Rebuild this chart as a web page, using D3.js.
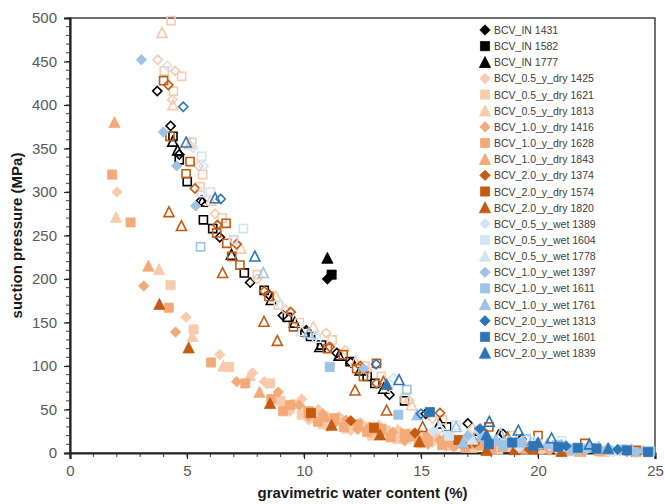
<!DOCTYPE html>
<html>
<head>
<meta charset="utf-8">
<script src="https://cdn.jsdelivr.net/npm/d3@7"></script>
<style>
  html, body { margin: 0; padding: 0; background: #fff; }
  svg { display: block; font-family: "Liberation Sans", Arial, sans-serif; }
</style>
</head>
<body>
<svg id="chart" width="665" height="504"></svg>
<script>
// Suction pressure vs. gravimetric water content for BCV bentonite samples.
// Each point is [water content %, suction MPa, filled (1) / open (0) marker].

const xTicks = [0, 5, 10, 15, 20, 25];
const yTicks = [0, 50, 100, 150, 200, 250, 300, 350, 400, 450, 500];

const in1431 = [[11.0,200,1],[3.73,416,0],[4.3,376,0],[4.67,343,0],[5.6,290,0],[6.4,248,0],[7.7,196,0],[8.5,182,0],[9.1,158,0],[10.1,141,0],[11.4,115,0],[12.0,104,0],[13.65,67,0],[15.2,45,0],[17.0,34,0],[18.5,22,0],[19.3,16,0]];
const in1582 = [[11.18,205,1],[4.4,364,0],[4.67,337,0],[5.01,312,0],[5.7,268,0],[6.1,258,0],[7.45,207,0],[8.3,187,0],[9.29,156,0],[10.04,139,0],[10.28,134,0],[10.75,124,0],[11.97,105,0],[12.7,88,0],[13.03,80,0],[14.3,60,0],[16.1,30,0],[17.5,25,0]];
const in1777 = [[11.0,224,1],[4.39,358,0],[4.6,348,0],[5.65,289,0],[6.9,228,0],[8.6,176,0],[9.6,150,0],[10.68,122,0],[11.5,112,0],[12.4,95,0],[13.4,74,0],[15.8,34,0],[18.3,20,0]];

const dry05_1425 = [[3.75,452,0],[4.49,439,0],[4.37,406,0],[5.5,330,0],[6.2,275,0],[7.12,240,0],[8.0,200,0],[9.2,165,0],[10.94,138,0],[11.75,118,0],[12.7,95,0],[13.6,75,0],[14.5,60,0],[15.5,40,0],[17.2,28,0],
  [2.0,300,1],[4.96,156,1],[6.4,113,1],[7.8,92,1],[8.3,82,1],[9.9,62,1],[10.6,50,1],[11.5,42,1],[12.4,35,1],[13.2,32,1],[14.1,25,1],[15.0,22,1],[16.0,17,1],[17.2,12,1],[18.4,8,1],[19.5,6,1],[20.8,4,1],[22.0,3,1],[23.5,2,1],
  [8.8,65,1],[9.4,48,1],[10.2,38,1],[11.0,30,1],[12.0,26,1],[13.0,22,1],[14.5,16,1],[15.5,12,1],[16.5,8,1],[17.8,5,1]];
const dry05_1621 = [[4.32,497,0],[4.03,439,0],[4.77,433,0],[4.42,416,0],[5.2,357,0],[5.67,320,0],[5.56,306,0],[6.5,270,0],[7.0,245,0],[8.0,205,0],[8.9,170,0],[9.8,150,0],[11.2,130,0],[12.6,100,0],[13.3,88,0],[14.32,63,0],[15.9,38,0],[18.9,20,0],
  [4.3,193,1],[5.28,142,1],[6.8,99,1],[8.55,80,1],[9.6,56,1],[10.5,40,1],[11.4,38,1],[12.5,30,1],[13.5,26,1],[14.6,22,1],[15.6,18,1],[16.6,14,1],[17.7,10,1],[19.0,7,1],[20.3,5,1],[21.6,3,1],[23.0,2,1],
  [9.0,60,1],[9.9,44,1],[10.8,33,1],[11.8,28,1],[12.9,20,1],[14.0,16,1],[15.0,11,1],[16.2,8,1],[17.2,6,1],[18.3,4,1]];
const dry05_1813 = [[3.93,483,0],[4.4,400,0],[5.1,355,0],[6.0,290,0],[7.3,235,0],[8.8,180,0],[10.4,145,0],[12.2,105,0],[14.6,55,0],
  [1.97,271,1],[3.8,211,1],[5.23,134,1],[6.55,100,1],[7.69,89,1],[9.12,56,1],[10.0,48,1],[11.0,42,1],[12.0,36,1],[13.0,30,1],[14.0,27,1],[15.2,20,1],[16.3,15,1],[17.5,11,1],[18.7,8,1],[20.0,5,1],[21.4,3,1],[22.8,2,1]];

const dry10_1416 = [[3.15,192,1],[4.51,139,1],[7.12,82,1],[8.9,70,1],[9.8,55,1],[10.8,45,1],[11.8,38,1],[12.8,30,1],[13.8,24,1],[14.8,18,1],[15.8,15,1],[16.9,10,1],[18.0,8,1],[19.2,5,1],[20.5,3,1],[22.0,2,1],[23.8,1,1],
  [10.2,42,1],[11.3,34,1],[12.3,27,1],[13.3,22,1],[14.3,14,1],[15.3,10,1],[16.4,7,1]];
const dry10_1628 = [[1.8,320,1],[2.59,265,1],[4.22,167,1],[6.03,104,1],[7.49,80,1],[9.4,55,1],[10.2,48,1],[11.3,40,1],[12.3,33,1],[13.3,28,1],[14.3,22,1],[15.3,18,1],[16.3,13,1],[17.3,10,1],[18.5,7,1],[19.8,5,1],[21.2,3,1],[22.6,2,1],[24.2,1,1],
  [8.6,62,1],[9.1,48,1],[10.6,36,1],[11.7,30,1],[12.7,24,1],[13.7,18,1],[14.9,13,1],[15.9,9,1],[16.9,6,1],[18.0,4,1]];
const dry10_1843 = [[1.9,380,1],[3.35,215,1],[8.1,70,1],[10.9,42,1],[12.9,28,1],[14.5,20,1],[16.0,15,1],[17.6,9,1],[19.5,5,1],[21.8,2,1]];

const dry20_1374 = [[4.2,423,0],[5.34,304,0],[6.3,262,0],[7.12,240,0],[8.3,186,0],[9.43,162,0],[11.1,122,0],[12.4,100,0],[13.1,80,0],[15.81,46,0],
  [12.0,37,1],[14.74,23,1],[17.3,12,1],[19.6,5,1]];
const dry20_1574 = [[4.0,428,0],[4.27,364,0],[5.13,335,0],[4.96,321,0],[6.67,264,0],[6.27,253,0],[6.7,241,0],[6.91,226,0],[7.26,216,0],[8.5,180,0],[9.55,145,0],[11.0,120,0],[11.68,113,0],[12.25,97,0],[12.54,88,0],[13.1,103,0],[17.9,30,0],[20.0,20,0],[22.0,11,0],[24.2,3,0],
  [10.3,46,1],[12.99,29,1],[16.6,15,1],[19.8,4,1]];
const dry20_1820 = [[4.23,277,0],[4.76,261,0],[6.52,207,0],[8.29,151,0],[8.86,129,0],[12.18,72,0],[13.39,82,0],[13.53,49,0],[15.07,30,0],[17.24,15,0],[18.7,18,0],[20.0,10,0],
  [3.82,171,1],[5.07,121,1],[8.55,57,1],[11.18,32,1],[13.25,21,1],[14.93,13,1],[16.9,12,1],[17.8,3,1],[19.0,4,1],[21.0,2,1]];

const wet05_1389 = [[4.16,445,0],[5.27,351,0],[5.7,330,0],[7.0,245,0],[9.0,170,0],[10.5,135,0],[13.82,86,0],[15.8,28,0],[17.5,24,0],[19.5,16,0],
  [15.5,25,1],[17.0,18,1],[18.5,12,1],[20.5,8,1],[22.5,5,1],[24.0,3,1],[19.2,6,1],[21.5,3,1],[23.2,1,1]];
const wet05_1604 = [[5.63,341,0],[7.41,258,0],[6.0,300,0],[10.54,132,0],[14.39,73,0],[16.5,32,0],[21.0,14,0],
  [16.2,20,1],[18.0,14,1],[20.0,10,1],[22.0,6,1],[23.8,4,1]];
const wet05_1778 = [[5.6,300,0],[9.9,140,0],[15.8,28,0],[19.8,13,0],
  [17.2,16,1],[21.0,8,1],[23.2,3,1]];

const wet10_1397 = [[3.05,452,1],[3.99,369,1],[4.56,330,1],[5.37,284,1],[12.54,97,1],[17.0,20,1],[18.8,14,1],[21.0,10,1],[23.0,6,1],[24.5,3,1],
  [19.8,8,1],[22.0,4,1],[24.2,1,1]];
const wet10_1611 = [[5.58,237,0],[14.39,73,0],[19.5,16,0],
  [11.1,99,1],[14.03,44,1],[17.6,18,1],[19.3,12,1],[20.8,9,1],[22.3,6,1],[23.6,4,1],[18.5,9,1],[21.5,5,1],[24.8,2,1]];
const wet10_1761 = [[8.26,207,0],[10.2,138,0],[16.5,30,0],[18.4,22,0],
  [14.84,44,1],[18.2,15,1],[20.4,11,1],[22.6,7,1],[24.0,4,1],[16.8,12,1],[21.5,4,1]];

const wet20_1313 = [[4.84,398,0],[6.44,292,0],[13.08,102,0],[15.0,45,0],
  [17.52,28,1],[21.2,8,1],[23.4,4,1]];
const wet20_1601 = [[15.38,47,1],[18.9,12,1],[20.87,7,1],[22.5,5,1],[24.7,1,1],[17.9,10,1],[19.8,8,1],[21.7,6,1],[23.8,3,1]];
const wet20_1839 = [[4.96,357,0],[6.2,293,0],[7.9,226,0],[14.06,84,0],[17.92,36,0],[19.16,26,0],[20.58,17,0],[22.2,10,0],
  [13.53,79,1],[17.8,21,1],[20.0,12,1],[23.0,5,1]];

// Series table: legend label, data, marker shape, colour.
const BLACK = "#000000", PEACH = "#F8CBAD", ORANGE = "#F4AA78", RUST = "#C55A11";
const PALE = "#D3E4F5", SKY = "#9DC3E6", BLUE = "#2E75B6";
const series = [
  { name: "BCV_IN 1431",        data: in1431,     shape: "diamond",  color: BLACK },
  { name: "BCV_IN 1582",        data: in1582,     shape: "square",   color: BLACK },
  { name: "BCV_IN 1777",        data: in1777,     shape: "triangle", color: BLACK },
  { name: "BCV_0.5_y_dry 1425", data: dry05_1425, shape: "diamond",  color: PEACH },
  { name: "BCV_0.5_y_dry 1621", data: dry05_1621, shape: "square",   color: PEACH },
  { name: "BCV_0.5_y_dry 1813", data: dry05_1813, shape: "triangle", color: PEACH },
  { name: "BCV_1.0_y_dry 1416", data: dry10_1416, shape: "diamond",  color: ORANGE },
  { name: "BCV_1.0_y_dry 1628", data: dry10_1628, shape: "square",   color: ORANGE },
  { name: "BCV_1.0_y_dry 1843", data: dry10_1843, shape: "triangle", color: ORANGE },
  { name: "BCV_2.0_y_dry 1374", data: dry20_1374, shape: "diamond",  color: RUST },
  { name: "BCV_2.0_y_dry 1574", data: dry20_1574, shape: "square",   color: RUST },
  { name: "BCV_2.0_y_dry 1820", data: dry20_1820, shape: "triangle", color: RUST },
  { name: "BCV_0.5_y_wet 1389", data: wet05_1389, shape: "diamond",  color: PALE },
  { name: "BCV_0.5_y_wet 1604", data: wet05_1604, shape: "square",   color: PALE },
  { name: "BCV_0.5_y_wet 1778", data: wet05_1778, shape: "triangle", color: PALE },
  { name: "BCV_1.0_y_wet 1397", data: wet10_1397, shape: "diamond",  color: SKY },
  { name: "BCV_1.0_y_wet 1611", data: wet10_1611, shape: "square",   color: SKY },
  { name: "BCV_1.0_y_wet 1761", data: wet10_1761, shape: "triangle", color: SKY },
  { name: "BCV_2.0_y_wet 1313", data: wet20_1313, shape: "diamond",  color: BLUE },
  { name: "BCV_2.0_y_wet 1601", data: wet20_1601, shape: "square",   color: BLUE },
  { name: "BCV_2.0_y_wet 1839", data: wet20_1839, shape: "triangle", color: BLUE }
];

const margin = { left: 70, right: 10, top: 18, bottom: 51 };
const W = 665, H = 504;
const svg = d3.select("#chart");

const x = d3.scaleLinear().domain([0, 25]).range([margin.left, W - margin.right]);
const y = d3.scaleLinear().domain([0, 500]).range([H - margin.bottom, margin.top]);

// Marker paths centred on the origin.
function markerPath(shape, filled) {
  const s = filled ? 5.2 : 4.6;
  if (shape === "diamond") return `M0,${-s}L${s},0L0,${s}L${-s},0Z`;
  if (shape === "square") { const q = s * 0.88; return `M${-q},${-q}H${q}V${q}H${-q}Z`; }
  const h = s * 1.0;
  return `M0,${-h - 0.6}L${s + 0.4},${h}L${-s - 0.4},${h}Z`;
}

// Plot frame
svg.append("rect")
  .attr("x", x(0)).attr("y", y(500))
  .attr("width", x(25) - x(0)).attr("height", y(0) - y(500))
  .attr("fill", "none").attr("stroke", "#404040").attr("stroke-width", 1.5);

// Minor ticks
const gx = svg.append("g");
gx.selectAll("line.minor-x").data(d3.range(0, 26, 1)).join("line")
  .attr("x1", d => x(d)).attr("x2", d => x(d))
  .attr("y1", y(0)).attr("y2", y(0) + 4)
  .attr("stroke", "#404040").attr("stroke-width", 1);
gx.selectAll("line.minor-y").data(d3.range(0, 501, 10)).join("line")
  .attr("x1", x(0) - 4).attr("x2", x(0))
  .attr("y1", d => y(d)).attr("y2", d => y(d))
  .attr("stroke", "#404040").attr("stroke-width", 1);

// Axes with major ticks
const xAxis = svg.append("g").attr("transform", `translate(0,${y(0)})`)
  .call(d3.axisBottom(x).tickValues(xTicks).tickSize(6).tickPadding(6));
const yAxis = svg.append("g").attr("transform", `translate(${x(0)},0)`)
  .call(d3.axisLeft(y).tickValues(yTicks).tickSize(6).tickPadding(7));
[xAxis, yAxis].forEach(a => {
  a.select(".domain").attr("stroke", "#262626").attr("stroke-width", 2.2);
  a.selectAll(".tick line").attr("stroke", "#262626").attr("stroke-width", 1.2);
  a.selectAll(".tick text").attr("fill", "#595959").attr("font-size", 15)
    .attr("font-family", "Liberation Sans, Arial, sans-serif");
});

// Axis titles
svg.append("text")
  .attr("x", (x(0) + x(25)) / 2).attr("y", 498)
  .attr("text-anchor", "middle").attr("font-weight", "bold").attr("font-size", 15)
  .attr("fill", "#1a1a1a").text("gravimetric water content (%)");
svg.append("text")
  .attr("transform", `translate(22,${(y(0) + y(500)) / 2}) rotate(-90)`)
  .attr("text-anchor", "middle").attr("font-weight", "bold").attr("font-size", 15)
  .attr("fill", "#1a1a1a").text("suction pressure (MPa)");

// Data points, series drawn in legend order
const plot = svg.append("g");
series.forEach(s => {
  plot.append("g").selectAll("path").data(s.data).join("path")
    .attr("transform", d => `translate(${x(d[0])},${y(d[1])})`)
    .attr("d", d => markerPath(s.shape, d[2] === 1))
    .attr("fill", d => d[2] === 1 ? s.color : "none")
    .attr("stroke", s.color)
    .attr("stroke-width", d => d[2] === 1 ? 0.8 : 1.6);
});

// Legend
const legend = svg.append("g").attr("transform", "translate(485,30)");
const rowH = 16.15;
series.forEach((s, i) => {
  const row = legend.append("g").attr("transform", `translate(0,${i * rowH})`);
  row.append("path").attr("d", markerPath(s.shape, true))
    .attr("fill", s.color).attr("stroke", s.color).attr("stroke-width", 0.8);
  row.append("text").attr("x", 9).attr("y", 4)
    .attr("font-size", 10.5).attr("fill", "#404040").text(s.name);
});
</script>
</body>
</html>
